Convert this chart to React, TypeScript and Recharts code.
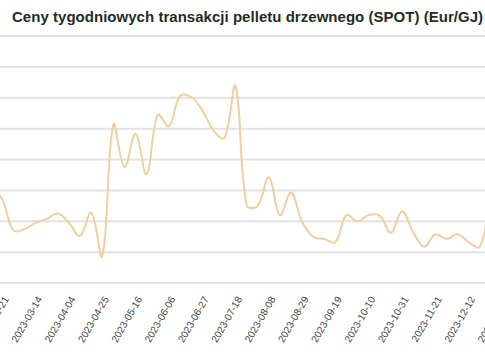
import { LineChart, Line, XAxis, YAxis, CartesianGrid } from 'recharts'

const weeks = [
  '2023-01-31', '2023-02-07', '2023-02-14', '2023-02-21', '2023-02-28', '2023-03-07',
  '2023-03-14', '2023-03-21', '2023-03-28', '2023-04-04', '2023-04-11', '2023-04-18',
  '2023-04-25', '2023-05-02', '2023-05-09', '2023-05-16', '2023-05-23', '2023-05-30',
  '2023-06-06', '2023-06-13', '2023-06-20', '2023-06-27', '2023-07-04', '2023-07-11',
  '2023-07-18', '2023-07-25', '2023-08-01', '2023-08-08', '2023-08-15', '2023-08-22',
  '2023-08-29', '2023-09-05', '2023-09-12', '2023-09-19', '2023-09-26', '2023-10-03',
  '2023-10-10', '2023-10-17', '2023-10-24', '2023-10-31', '2023-11-07', '2023-11-14',
  '2023-11-21', '2023-11-28', '2023-12-05', '2023-12-12', '2023-12-19', '2023-12-26',
  '2024-01-02',
]

// Eur/GJ
const prices = [
  13.9, 14.0, 14.15, 13.4, 11.4, 11.5,
  11.9, 12.15, 12.5, 11.9, 11.05, 12.55,
  9.75, 18.25, 15.5, 17.65, 15.05, 18.9,
  18.15, 20.1, 20.05, 19.2, 17.9, 17.4,
  20.75, 13.05, 13.0, 14.85, 12.4, 13.85,
  11.95, 11.0, 10.85, 10.65, 12.4, 12.0,
  12.4, 12.35, 11.25, 12.65, 11.3, 10.35,
  11.15, 10.85, 11.15, 10.65, 10.35, 13.05,
  13.7,
]

const yTicks = [8, 10, 12, 14, 16, 18, 20, 22, 24]

const data = weeks.map((w, i) => ({ date: w, price: prices[i] }))

// spline with tension, control points scaled by segment length
const tensionCurve = (tension: number) => (context: any) => {
  let pts: number[][] = []
  return {
    areaStart() {},
    areaEnd() {},
    lineStart() {
      pts = []
    },
    point(x: number, y: number) {
      pts.push([+x, +y])
    },
    lineEnd() {
      const n = pts.length
      if (!n) return
      const cps = pts.map((p, i) => {
        const prev = pts[i - 1] || p
        const next = pts[i + 1] || p
        const d01 = Math.hypot(p[0] - prev[0], p[1] - prev[1])
        const d12 = Math.hypot(next[0] - p[0], next[1] - p[1])
        let s01 = d01 / (d01 + d12)
        let s12 = d12 / (d01 + d12)
        if (isNaN(s01)) s01 = 0
        if (isNaN(s12)) s12 = 0
        const fa = tension * s01
        const fb = tension * s12
        return {
          px: p[0] - fa * (next[0] - prev[0]),
          py: p[1] - fa * (next[1] - prev[1]),
          nx: p[0] + fb * (next[0] - prev[0]),
          ny: p[1] + fb * (next[1] - prev[1]),
        }
      })
      context.moveTo(pts[0][0], pts[0][1])
      for (let i = 1; i < n; i++) {
        context.bezierCurveTo(cps[i - 1].nx, cps[i - 1].ny, cps[i].px, cps[i].py, pts[i][0], pts[i][1])
      }
    },
  }
}

const DateTick = (props: any) => {
  const { x, y, payload } = props
  return (
    <g transform={`translate(${x},${y + 4})`}>
      <text
        x={0}
        y={0}
        dy={8}
        textAnchor="end"
        transform="rotate(-60)"
        fontSize={10}
        fontFamily="Liberation Sans, Arial, sans-serif"
        fill="#3b4740"
      >
        {payload.value}
      </text>
    </g>
  )
}

export default function App() {
  return (
    <div
      style={{
        position: 'absolute',
        top: 0,
        left: 0,
        width: 485,
        height: 360,
        overflow: 'hidden',
        background: '#fff',
      }}
    >
      <div
        style={{
          position: 'absolute',
          top: 8,
          left: 12,
          fontFamily: 'Liberation Sans, Arial, sans-serif',
          fontWeight: 'bold',
          fontSize: 15,
          letterSpacing: 0.03,
          color: '#1f2e24',
          whiteSpace: 'nowrap',
        }}
      >
        Ceny tygodniowych transakcji pelletu drzewnego (SPOT) (Eur/GJ)
      </div>
      <div style={{ position: 'absolute', top: 0, left: -31 }}>
        <LineChart
          width={533}
          height={360}
          data={data}
          margin={{ top: 36, right: 0, left: 0, bottom: 0 }}
        >
          <CartesianGrid vertical={false} stroke="#e2e2e2" strokeWidth={2} />
          <XAxis
            dataKey="date"
            interval={2}
            height={77}
            tickLine={false}
            axisLine={{ stroke: '#e2e2e2', strokeWidth: 2 }}
            tick={<DateTick />}
          />
          <YAxis hide domain={[8, 24]} ticks={yTicks} />
          <Line
            type={tensionCurve(0.4) as any}
            dataKey="price"
            stroke="#efd09f"
            strokeWidth={2}
            dot={false}
            isAnimationActive={false}
          />
        </LineChart>
      </div>
    </div>
  )
}
